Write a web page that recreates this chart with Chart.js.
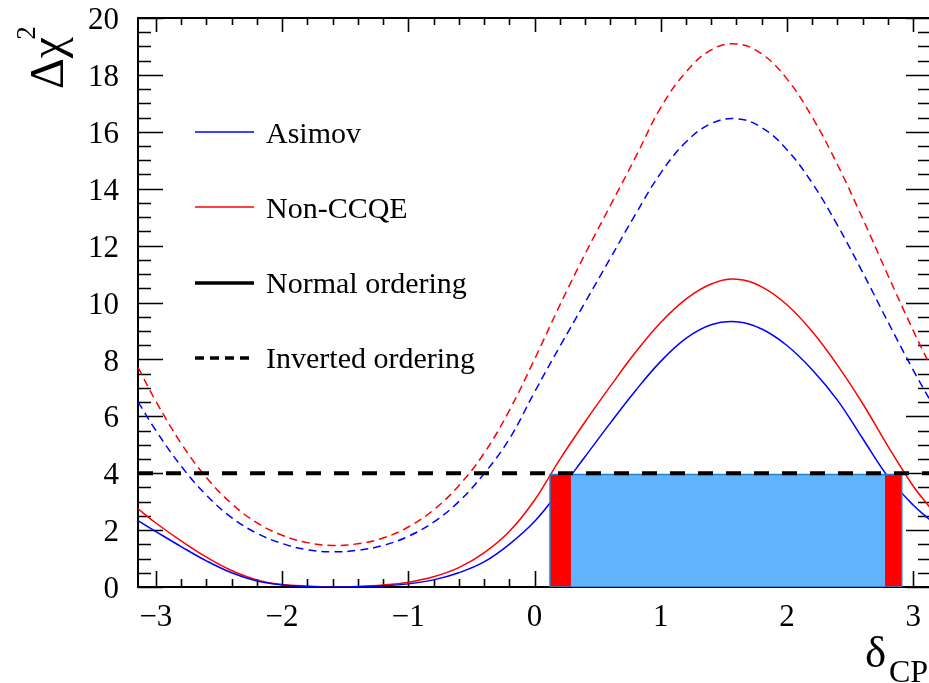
<!DOCTYPE html>
<html><head><meta charset="utf-8">
<script src="https://cdn.jsdelivr.net/npm/chart.js@4"></script>
<style>
html,body{margin:0;padding:0;background:#fff;overflow:hidden;width:929px;height:683px}
#wrap{width:934px;height:683px}
canvas{display:block}
</style></head>
<body><div id="wrap"><canvas id="c" width="934" height="683"></canvas></div>
<script>
// ---- data ----
const deltaCP = [-3.1416,-3.0,-2.8,-2.6,-2.4,-2.2,-2.0,-1.8,-1.6,-1.4,-1.2,-1.0,-0.8,-0.6,-0.4,-0.2,0.0,0.2,0.4,0.6,0.8,1.0,1.2,1.4,1.6,1.8,2.0,2.2,2.4,2.6,2.8,3.0,3.1416];
const asimovNO   = [2.33,1.95,1.42,0.92,0.50,0.21,0.07,0.02,0.00,0.01,0.04,0.11,0.25,0.50,0.88,1.50,2.30,3.40,4.58,5.76,6.90,7.93,8.74,9.22,9.32,9.07,8.49,7.64,6.57,5.22,3.88,2.88,2.33];
const nonCCQENO  = [2.75,2.25,1.62,1.05,0.58,0.25,0.09,0.03,0.00,0.02,0.07,0.17,0.36,0.68,1.20,1.95,3.05,4.48,5.80,7.05,8.25,9.30,10.12,10.65,10.82,10.55,9.92,8.98,7.80,6.45,4.95,3.55,2.75];
const asimovIO   = [6.51,5.50,4.25,3.23,2.44,1.89,1.53,1.31,1.24,1.29,1.46,1.78,2.28,3.00,3.98,5.20,6.85,8.45,10.00,11.55,13.10,14.55,15.64,16.29,16.46,16.15,15.37,14.20,12.72,11.06,9.32,7.63,6.51];
const nonCCQEIO  = [7.72,6.53,5.05,3.85,2.93,2.26,1.82,1.56,1.46,1.52,1.72,2.11,2.71,3.56,4.70,6.20,8.00,9.90,11.70,13.40,15.10,16.85,18.10,18.88,19.09,18.74,17.86,16.52,14.85,12.95,10.96,9.02,7.72];
const xRange = [-Math.PI, Math.PI];
const thresholdValue = 4;
const bandTop = 3.95;
const nonCCQEInterval = [0.123, 2.91];
const asimovInterval = [0.287, 2.778];
const xTickValues = [-3,-2,-1,0,1,2,3];
const yTickValues = [0,2,4,6,8,10,12,14,16,18,20];
const legendLabels = ['Asimov','Non-CCQE','Normal ordering','Inverted ordering'];

const pts = (xs, ys) => xs.map((v,i)=>({x:v, y:ys[i]}));
const SERIF = '"Liberation Serif", "Times New Roman", serif';
const fmt = v => v < 0 ? '\u2212' + Math.abs(v) : String(v);

const frameTicks = {
  id:'frameTicks',
  beforeDatasetsDraw(chart){
    const {ctx, chartArea:a, scales:{x, y}} = chart;
    ctx.save();
    ctx.strokeStyle = '#000';
    ctx.lineWidth = 1.6;
    ctx.beginPath();
    for (let k=-16;k<=16;k++){
      const v = k*0.2;
      if (v < x.min - 1e-9 || v > x.max + 1e-9) continue;
      const px = Math.round(x.getPixelForValue(v)) + 0.5;
      const major = k % 5 === 0;
      ctx.moveTo(px, a.bottom); ctx.lineTo(px, a.bottom - (major ? 16 : 8));
      ctx.moveTo(px, a.top); ctx.lineTo(px, a.top + (major ? 14 : 7));
    }
    for (let k=0;k<=40;k++){
      const v = k*0.5;
      const py = Math.round(y.getPixelForValue(v)) + 0.5;
      const major = k % 4 === 0;
      ctx.moveTo(a.left, py); ctx.lineTo(a.left + (major ? 25 : 13), py);
      ctx.moveTo(a.right, py); ctx.lineTo(a.right - (major ? 25 : 13), py);
    }
    ctx.stroke();
    ctx.lineWidth = 2;
    ctx.strokeRect(a.left, a.top, a.right - a.left, a.bottom - a.top);
    ctx.restore();
  },
  afterDraw(chart){
    const ctx = chart.ctx;
    ctx.save();
    ctx.fillStyle = '#000';
    const styles = [
      {c:'#0000ff', w:1.5, d:[]},
      {c:'#ff0000', w:1.5, d:[]},
      {c:'#000000', w:3.5, d:[]},
      {c:'#000000', w:3.5, d:[9,6]}
    ];
    const rowsLine = [132, 207, 283, 358];
    const rowsText = [143, 218, 293, 368];
    ctx.font = '30px ' + SERIF;
    ctx.textBaseline = 'alphabetic';
    legendLabels.forEach((lab,i)=>{
      const s = styles[i];
      ctx.beginPath();
      ctx.strokeStyle = s.c; ctx.lineWidth = s.w; ctx.setLineDash(s.d);
      ctx.moveTo(195, rowsLine[i]); ctx.lineTo(254, rowsLine[i]);
      ctx.stroke();
      ctx.setLineDash([]);
      ctx.fillText(lab, 266, rowsText[i]);
    });
    ctx.save();
    ctx.translate(63, 89);
    ctx.rotate(-Math.PI/2);
    ctx.font = '48px ' + SERIF;
    ctx.fillText('\u0394\u03c7', 0, 0);
    const w = ctx.measureText('\u0394\u03c7').width;
    ctx.font = '27px ' + SERIF;
    ctx.fillText('2', w - 3, -28);
    ctx.restore();
    ctx.font = '45px ' + SERIF;
    ctx.fillText('\u03b4', 865, 667);
    ctx.font = '32px ' + SERIF;
    ctx.fillText('CP', 889, 682);
    ctx.restore();
  }
};

const curve = (label, xs, ys, color, dashed) => ({
  label, data: pts(xs, ys), borderColor: color, borderWidth: 1.5,
  borderDash: dashed ? [8,5] : [], fill: false, pointRadius: 0,
  tension: 0.4, order: 10
});

new Chart(document.getElementById('c'), {
  type: 'line',
  data: { datasets: [
    { label:'Threshold', data: pts(xRange, [thresholdValue, thresholdValue]),
      borderColor:'#000', borderWidth:4, borderDash:[15,13], pointRadius:0, fill:false, tension:0, order:1 },
    { label:'Band outline',
      data: pts([nonCCQEInterval[0], nonCCQEInterval[0], nonCCQEInterval[1], nonCCQEInterval[1], nonCCQEInterval[0]], [0, bandTop, bandTop, 0, 0]),
      borderColor:'#1f80cc', borderWidth:1.5, pointRadius:0, fill:false, tension:0, order:3 },
    { label:'Asimov 2σ', data: pts(asimovInterval, [bandTop, bandTop]),
      borderColor:'rgba(0,0,0,0)', borderWidth:0, backgroundColor:'#62b3fe', pointRadius:0, fill:'origin', tension:0, order:4 },
    { label:'Non-CCQE 2σ', data: pts(nonCCQEInterval, [bandTop, bandTop]),
      borderColor:'rgba(0,0,0,0)', borderWidth:0, backgroundColor:'#ff0000', pointRadius:0, fill:'origin', tension:0, order:5 },
    curve('Asimov NO', deltaCP, asimovNO, '#0000ff', false),
    curve('Non-CCQE NO', deltaCP, nonCCQENO, '#ff0000', false),
    curve('Asimov IO', deltaCP, asimovIO, '#0000ff', true),
    curve('Non-CCQE IO', deltaCP, nonCCQEIO, '#ff0000', true)
  ]},
  options: {
    responsive:false, animation:false,
    layout:{padding:{top:18, right:3, left:0, bottom:0}},
    plugins:{legend:{display:false}, tooltip:{enabled:false}},
    elements:{point:{radius:0}},
    scales:{
      x:{type:'linear', min:xRange[0], max:xRange[1],
        afterBuildTicks: s => { s.ticks = xTickValues.map(v=>({value:v})); },
        afterFit: s => { s.height = 96; s.paddingLeft = 0; s.paddingRight = 0; },
        grid:{display:false, drawTicks:false}, border:{display:false},
        ticks:{font:{family:SERIF, size:31}, color:'#000', padding:12, maxRotation:0, autoSkip:false, callback: v => fmt(v)}},
      y:{type:'linear', min:0, max:20,
        afterBuildTicks: s => { s.ticks = yTickValues.map(v=>({value:v})); },
        afterFit: s => { s.width = 138; s.paddingTop = 0; s.paddingBottom = 0; },
        grid:{display:false, drawTicks:false}, border:{display:false},
        ticks:{font:{family:SERIF, size:31}, color:'#000', padding:19, autoSkip:false, labelOffset:3, callback: v => fmt(v)}}
    }
  },
  plugins:[frameTicks]
});
</script>
</body></html>
